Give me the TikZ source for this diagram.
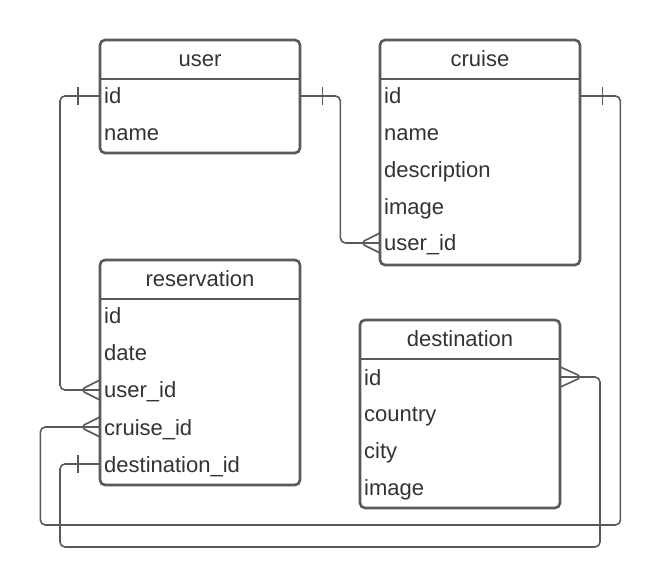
\documentclass[tikz,border=0pt]{standalone}
\usepackage{fontspec}
\setmainfont{Liberation Sans}
\definecolor{linegray}{HTML}{595959}
\definecolor{textgray}{HTML}{333333}
\newcommand{\erfont}{\fontsize{22}{26}\selectfont\color{textgray}}

\begin{document}
\begin{tikzpicture}
	[x=1pt,y=-1pt,
	 frame/.style={draw=linegray, line width=2.6pt, rounded corners=5pt},
	 title/.style={minimum width=200pt, minimum height=39pt, inner sep=0pt, text height=16pt, text depth=0pt, font=\erfont},
	 row/.style={anchor=west, minimum width=200pt, text width=192pt, inner xsep=4pt, inner ysep=0pt, align=left, minimum height=37pt, text height=16pt, text depth=0pt, font=\erfont},
	 conn/.style={draw=linegray, line width=1.6pt, rounded corners=5pt}]
	\useasboundingbox (0,0) rectangle (662,588);
	
	% user
	\draw[frame] (100,40) rectangle (300,153);
	\draw[frame] (100,79) -- (300,79);
	\node[title] (user) at (200,59) {user};
	\node[row] (user-id) at (100,96) {id};
	\node[row] (user-name) at (100,133) {name};
	
	% cruise
	\draw[frame] (380,40) rectangle (580,265);
	\draw[frame] (380,79) -- (580,79);
	\node[title] (cruise) at (480,59) {cruise};
	\node[row] (cruise-id) at (380,96) {id};
	\node[row] (cruise-name) at (380,133) {name};
	\node[row] (cruise-desc) at (380,170) {description};
	\node[row] (cruise-image) at (380,207) {image};
	\node[row] (cruise-user) at (380,243) {user\_id};
	
	% reservation
	\draw[frame] (100,260) rectangle (300,485);
	\draw[frame] (100,299) -- (300,299);
	\node[title] (res) at (200,279) {reservation};
	\node[row] (res-id) at (100,316) {id};
	\node[row] (res-date) at (100,353) {date};
	\node[row] (res-user) at (100,390) {user\_id};
	\node[row] (res-cruise) at (100,427) {cruise\_id};
	\node[row] (res-dest) at (100,464) {destination\_id};
	
	% destination
	\draw[frame] (360,320) rectangle (560,508);
	\draw[frame] (360,359) -- (560,359);
	\node[title] (dest) at (460,339) {destination};
	\node[row] (dest-id) at (360,377) {id};
	\node[row] (dest-country) at (360,413) {country};
	\node[row] (dest-city) at (360,450) {city};
	\node[row] (dest-image) at (360,487) {image};
	
	% relations
	\draw[conn] (user-id.west) -- ++(-40,0) |- (res-user.west);
	\draw[conn] (user-id.west) ++(-22,-9) -- ++(0,18);
	\draw[conn] (res-user.west) ++(0,-10) -- ++(-20,10) -- ++(20,10);
	
	\draw[conn] (user-id.east) -- ++(40,0) |- (cruise-user.west);
	\draw[conn] (user-id.east) ++(22,-9) -- ++(0,18);
	\draw[conn] (cruise-user.west) ++(0,-10) -- ++(-20,10) -- ++(20,10);
	
	\draw[conn] (cruise-id.east) -- ++(40,0) -- ++(0,429) -- ++(-580,0) |- (res-cruise.west);
	\draw[conn] (cruise-id.east) ++(22,-9) -- ++(0,18);
	\draw[conn] (res-cruise.west) ++(0,-10) -- ++(-20,10) -- ++(20,10);
	
	\draw[conn] (res-dest.west) -- ++(-40,0) -- ++(0,83) -- ++(540,0) |- (dest-id.east);
	\draw[conn] (res-dest.west) ++(-22,-9) -- ++(0,18);
	\draw[conn] (dest-id.east) ++(0,-10) -- ++(22,10) -- ++(-22,10);
\end{tikzpicture}
\end{document}
